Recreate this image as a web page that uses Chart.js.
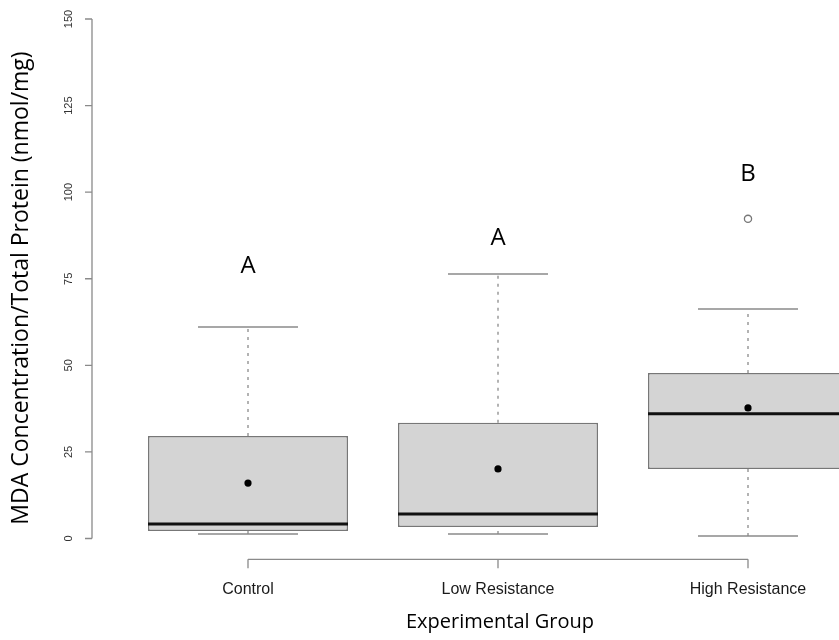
<!DOCTYPE html>
<html>
<head>
<meta charset="utf-8">
<title>MDA by experimental group</title>
<script src="https://cdn.jsdelivr.net/npm/chart.js@4.4.1/dist/chart.umd.min.js"></script>
<style>
  body { margin: 0; background: #fff; }
  canvas { display: block; }
</style>
</head>
<body>
<canvas id="boxChart" width="839" height="640"></canvas>
<script>
// groups on the x axis and where they sit
const groups = ['Control', 'Low Resistance', 'High Resistance'];
const groupPos = [1, 2, 3];

// box stats (nmol/mg)
const q1 = [2.2, 3.3, 20.1];
const q3 = [29.6, 33.4, 47.8];
const medians = [4.2, 7.1, 36.0];
const means = [16.0, 20.1, 37.7];
const whiskerLow = [1.3, 1.3, 0.7];
const whiskerHigh = [61.1, 76.4, 66.3];
const outliers = [[], [], [92.3]];

// significance letters and the height they sit at
const letters = ['A', 'A', 'B'];
const letterY = [78.7, 86.8, 105.3];

const yTicks = [0, 25, 50, 75, 100, 125, 150];

const grey = '#8a8a8a';

// whisker segments, null breaks the line between them
let whiskerPts = [];
groupPos.forEach((x, i) => {
    whiskerPts.push({x: x, y: q3[i]}, {x: x, y: whiskerHigh[i]}, {x: x, y: null});
    whiskerPts.push({x: x, y: whiskerLow[i]}, {x: x, y: q1[i]}, {x: x, y: null});
});

let capPts = [];
groupPos.forEach((x, i) => {
    capPts.push({x: x, y: whiskerLow[i]}, {x: x, y: whiskerHigh[i]});
});

let outlierPts = [];
groupPos.forEach((x, i) => {
    outliers[i].forEach(v => outlierPts.push({x: x, y: v}));
});

// R style axes, titles and letters
const rAxes = {
    id: 'rAxes',
    afterDraw(chart) {
        const {ctx, chartArea} = chart;
        const xs = chart.scales.x, ys = chart.scales.y;
        ctx.save();
        ctx.strokeStyle = grey;
        ctx.lineWidth = 1.3;

        // y axis
        const left = chartArea.left;
        ctx.beginPath();
        ctx.moveTo(left, ys.getPixelForValue(yTicks[0]));
        ctx.lineTo(left, ys.getPixelForValue(yTicks[yTicks.length - 1]));
        yTicks.forEach(t => {
            const py = ys.getPixelForValue(t);
            ctx.moveTo(left - 7, py);
            ctx.lineTo(left, py);
        });
        // x axis
        const bottom = chartArea.bottom;
        ctx.moveTo(xs.getPixelForValue(groupPos[0]), bottom);
        ctx.lineTo(xs.getPixelForValue(groupPos[groupPos.length - 1]), bottom);
        groupPos.forEach(g => {
            const px = xs.getPixelForValue(g);
            ctx.moveTo(px, bottom);
            ctx.lineTo(px, bottom + 9);
        });
        ctx.stroke();

        // y tick labels, turned like R does
        ctx.fillStyle = '#333';
        ctx.font = '11px "Liberation Sans", Arial, sans-serif';
        ctx.textAlign = 'center';
        ctx.textBaseline = 'middle';
        yTicks.forEach(t => {
            ctx.save();
            ctx.translate(left - 23, ys.getPixelForValue(t));
            ctx.rotate(-Math.PI / 2);
            ctx.fillText(String(t), 0, 0);
            ctx.restore();
        });

        // group names
        ctx.fillStyle = '#1a1a1a';
        ctx.font = '16px "Liberation Sans", Arial, sans-serif';
        groups.forEach((g, i) => {
            ctx.fillText(g, xs.getPixelForValue(groupPos[i]), bottom + 30);
        });

        // letters
        ctx.fillStyle = '#000';
        ctx.font = '24px "Open Sans", sans-serif';
        letters.forEach((l, i) => {
            ctx.fillText(l, xs.getPixelForValue(groupPos[i]), ys.getPixelForValue(letterY[i]));
        });

        // axis titles
        ctx.font = '20px "Open Sans", sans-serif';
        ctx.fillText('Experimental Group', xs.getPixelForValue(2) + 2, bottom + 63);

        ctx.save();
        ctx.translate(21, 288);
        ctx.rotate(-Math.PI / 2);
        ctx.font = '23px "Open Sans", sans-serif';
        ctx.fillText('MDA Concentration/Total Protein (nmol/mg)', 0, 0);
        ctx.restore();

        ctx.restore();
    }
};

const ctx = document.getElementById('boxChart').getContext('2d');
const boxChart = new Chart(ctx, {
    type: 'bar',
    data: {
        datasets: [
            {
                // medians
                type: 'scatter',
                data: groupPos.map((x, i) => ({x: x, y: medians[i]})),
                pointStyle: 'line',
                pointRadius: 100,
                pointBorderWidth: 3,
                pointBorderColor: '#111',
                order: 0
            },
            {
                // means
                type: 'scatter',
                data: groupPos.map((x, i) => ({x: x, y: means[i]})),
                pointStyle: 'circle',
                pointRadius: 3.6,
                pointBackgroundColor: '#000',
                pointBorderWidth: 0,
                order: 1
            },
            {
                type: 'scatter',
                data: outlierPts,
                pointStyle: 'circle',
                pointRadius: 3.6,
                pointBackgroundColor: '#fff',
                pointBorderColor: '#777',
                pointBorderWidth: 1.3,
                order: 1
            },
            {
                // whisker caps
                type: 'scatter',
                data: capPts,
                pointStyle: 'line',
                pointRadius: 50,
                pointBorderWidth: 1.5,
                pointBorderColor: grey,
                order: 3
            },
            {
                type: 'line',
                data: whiskerPts,
                borderColor: grey,
                borderWidth: 1.3,
                borderDash: [3, 5],
                pointRadius: 0,
                spanGaps: false,
                order: 4
            },
            {
                // boxes from q1 to q3
                type: 'bar',
                data: groupPos.map((x, i) => ({x: x, y: [q1[i], q3[i]]})),
                backgroundColor: '#d4d4d4',
                borderColor: '#777',
                borderWidth: 1.5,
                borderSkipped: false,
                categoryPercentage: 0.8,
                barPercentage: 1.0,
                order: 2
            }
        ]
    },
    options: {
        responsive: false,
        animation: false,
        layout: {
            autoPadding: false,
            padding: { left: 92, right: 0, top: 19, bottom: 80.7 }
        },
        scales: {
            x: {
                type: 'linear',
                display: false,
                offset: false,
                min: 0.376,
                max: 3.364,
                ticks: { stepSize: 1, includeBounds: false }
            },
            y: {
                type: 'linear',
                display: false,
                min: -6,
                max: 150
            }
        },
        plugins: {
            legend: { display: false },
            tooltip: { enabled: false }
        }
    },
    plugins: [rAxes]
});
</script>
</body>
</html>
